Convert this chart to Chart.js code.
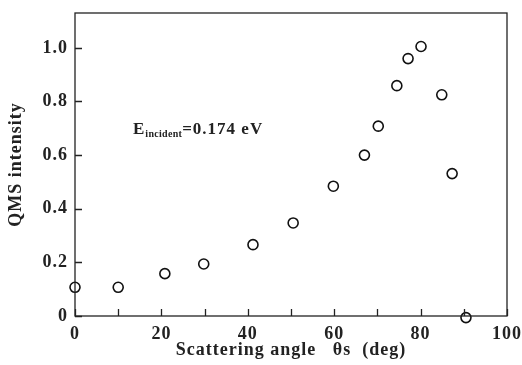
<!DOCTYPE html>
<html>
<head>
<meta charset="utf-8">
<script src="https://cdn.jsdelivr.net/npm/chart.js@4"></script>
<style>
  html, body { margin: 0; padding: 0; background: #fff; }
  #wrap { width: 522px; height: 365px; }
</style>
</head>
<body>
<div id="wrap"><canvas id="chart" width="522" height="365"></canvas></div>
<script>
// данные
const angles = [0, 10, 20.8, 29.8, 41.2, 50.5, 59.8, 67.0, 70.2, 74.5, 77.1, 80.1, 84.9, 87.3, 90.5];
const intensity = [0.107, 0.107, 0.158, 0.194, 0.266, 0.347, 0.484, 0.60, 0.708, 0.859, 0.96, 1.005, 0.825, 0.531, -0.006];
const xTickLabels = [0, 20, 40, 60, 80, 100];
const xMinorTicks = [0, 10, 20, 30, 40, 50, 60, 70, 80, 90, 100];
const yTickLabels = [0, 0.2, 0.4, 0.6, 0.8, 1.0];

const fontFamily = '"Liberation Serif", "Times New Roman", serif';

// широкий шрифт как на оригинале
const spacingPlugin = {
    id: 'spacing',
    beforeLayout(chart) { chart.ctx.letterSpacing = '1px'; },
    beforeDraw(chart) { chart.ctx.letterSpacing = '1px'; }
};

// рамка и внутренние засечки
const framePlugin = {
    id: 'frame',
    afterDraw(chart) {
        const ctx = chart.ctx;
        const a = chart.chartArea;
        const xs = chart.scales.x;
        const ys = chart.scales.y;
        ctx.save();
        ctx.strokeStyle = '#222';
        ctx.lineWidth = 1.3;
        ctx.strokeRect(a.left, a.top, a.right - a.left, a.bottom - a.top);
        ctx.beginPath();
        xMinorTicks.forEach(v => {
            const px = Math.round(xs.getPixelForValue(v)) + 0.5;
            ctx.moveTo(px, a.bottom);
            ctx.lineTo(px, a.bottom - 7);
        });
        yTickLabels.forEach(v => {
            const py = Math.round(ys.getPixelForValue(v)) + 0.5;
            ctx.moveTo(a.left, py);
            ctx.lineTo(a.left + 7, py);
        });
        ctx.stroke();

        // подпись E_incident
        const tx = 133, ty = 134;
        ctx.fillStyle = '#222';
        ctx.textBaseline = 'alphabetic';
        ctx.textAlign = 'left';
        ctx.font = 'bold 17px ' + fontFamily;
        ctx.fillText('E', tx, ty);
        let w = ctx.measureText('E').width;
        ctx.font = 'bold 10px ' + fontFamily;
        ctx.letterSpacing = '0.3px';
        ctx.fillText('incident', tx + w, ty + 3);
        w += ctx.measureText('incident').width;
        ctx.letterSpacing = '1px';
        ctx.font = 'bold 17px ' + fontFamily;
        ctx.fillText('=0.174 eV', tx + w, ty);
        ctx.restore();
    }
};

window.onload = () => {
    const ctx = document.getElementById('chart').getContext('2d');
    new Chart(ctx, {
        type: 'scatter',
        data: {
            datasets: [{
                data: angles.map((a, i) => ({ x: a, y: intensity[i] })),
                pointRadius: 5,
                pointBackgroundColor: '#fff',
                pointBorderColor: '#111',
                pointBorderWidth: 1.6,
                clip: false
            }]
        },
        options: {
            responsive: false,
            animation: false,
            layout: { padding: { top: 0, right: 0, left: 0, bottom: 0 } },
            plugins: { legend: { display: false }, tooltip: { enabled: false } },
            scales: {
                x: {
                    type: 'linear',
                    min: 0,
                    max: 100,
                    afterBuildTicks: s => { s.ticks = xTickLabels.map(v => ({ value: v })); },
                    afterFit: s => { s.height = 49; s.paddingRight = 15; s.paddingLeft = 0; },
                    grid: { display: false, drawTicks: false },
                    border: { display: false },
                    ticks: {
                        padding: 8,
                        color: '#222',
                        maxRotation: 0,
                        font: { family: fontFamily, size: 18, weight: 'bold' }
                    },
                    title: {
                        display: true,
                        text: 'Scattering angle   θs  (deg)',
                        color: '#222',
                        padding: { top: 1, bottom: 4 },
                        font: { family: fontFamily, size: 18, weight: 'bold' }
                    }
                },
                y: {
                    min: 0,
                    max: 1.13,
                    afterBuildTicks: s => { s.ticks = yTickLabels.map(v => ({ value: v })); },
                    afterFit: s => { s.width = 75; s.paddingTop = 13; s.paddingBottom = 0; },
                    grid: { display: false, drawTicks: false },
                    border: { display: false },
                    ticks: {
                        padding: 7,
                        color: '#222',
                        callback: v => v === 0 ? '0' : v.toFixed(1),
                        font: { family: fontFamily, size: 18, weight: 'bold' }
                    },
                    title: {
                        display: true,
                        text: 'QMS intensity',
                        color: '#222',
                        padding: { top: 6, bottom: 0 },
                        font: { family: fontFamily, size: 18, weight: 'bold' }
                    }
                }
            }
        },
        plugins: [spacingPlugin, framePlugin]
    });
};
</script>
</body>
</html>
